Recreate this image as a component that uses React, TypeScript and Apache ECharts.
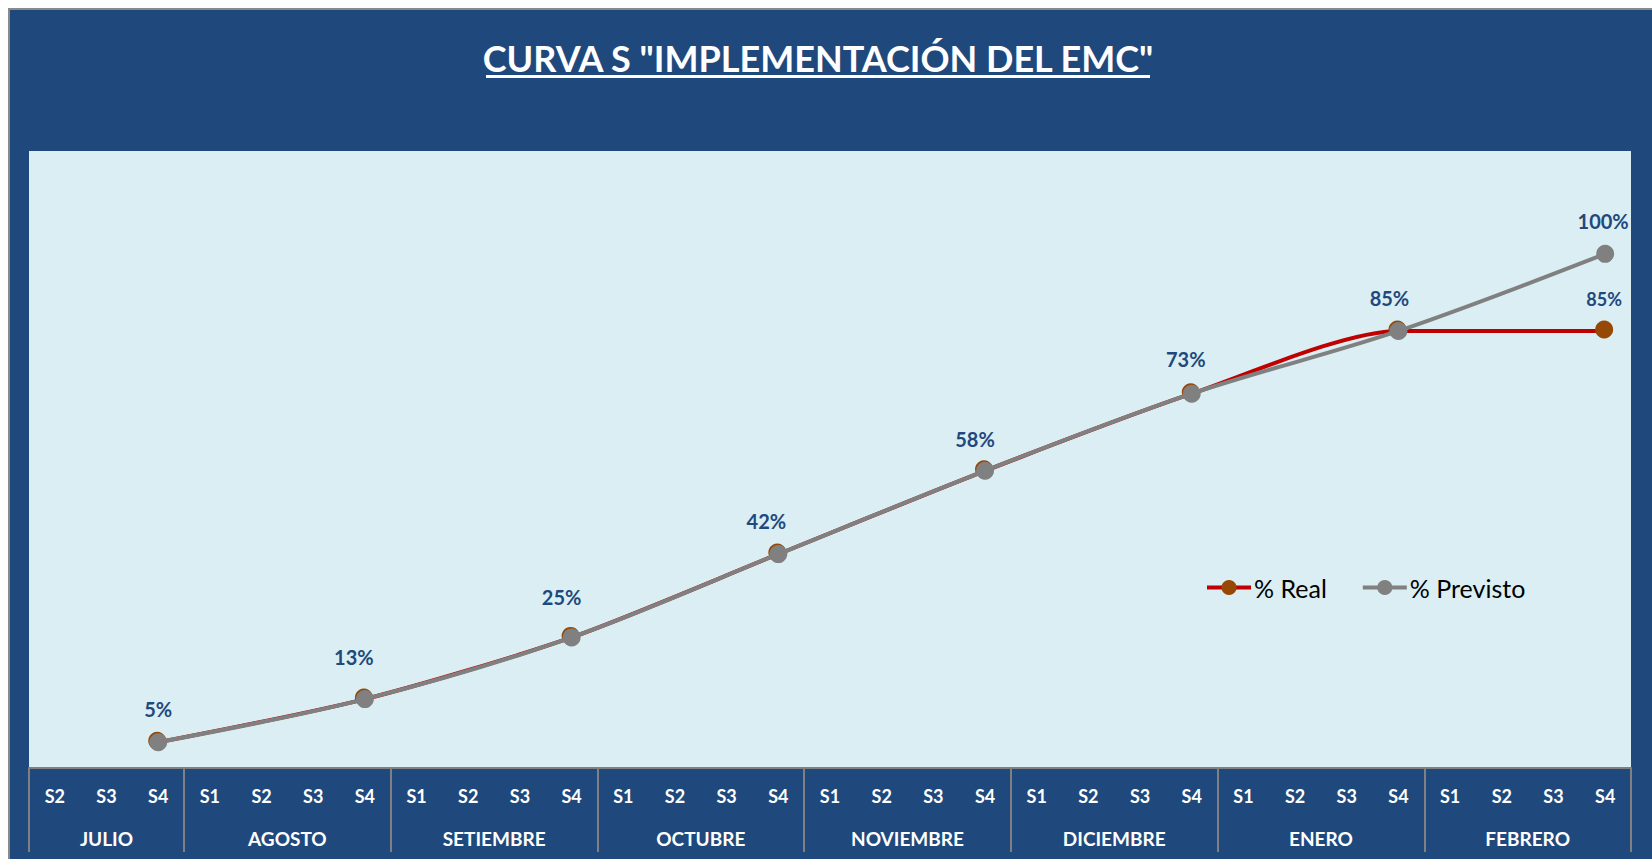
import React, { useEffect, useRef } from 'react';
import * as echarts from 'echarts';

const months = ['JULIO', 'AGOSTO', 'SETIEMBRE', 'OCTUBRE', 'NOVIEMBRE', 'DICIEMBRE', 'ENERO', 'FEBRERO'];
const monthWeeks = [
  ['S2', 'S3', 'S4'],
  ['S1', 'S2', 'S3', 'S4'],
  ['S1', 'S2', 'S3', 'S4'],
  ['S1', 'S2', 'S3', 'S4'],
  ['S1', 'S2', 'S3', 'S4'],
  ['S1', 'S2', 'S3', 'S4'],
  ['S1', 'S2', 'S3', 'S4'],
  ['S1', 'S2', 'S3', 'S4'],
];
// values at the last week (S4) of each month, in %
const previsto = [5, 13.4, 25.4, 41.6, 57.8, 72.8, 85, 100];
const real = [5, 13.4, 25.4, 41.6, 57.8, 72.8, 85, 85];
// label nudges (px) for the data labels of the "% Previsto" series
const labelNudges = [
  [0, 0],
  [-11, -9],
  [-10, -7],
  [-12, 0],
  [-10, 1],
  [-6, -2],
  [-9, 0],
  [-2, 0],
];

const FONT = 'Lato';
const DARK = '#1F497D';
const W = 1644;
const H = 851;

export default function App() {
  const ref = useRef<HTMLDivElement>(null);
  useEffect(() => {
    document.documentElement.style.overflow = 'hidden';
    const chart = echarts.init(ref.current!, null, { renderer: 'svg' });

    const weekCats: string[] = [];
    const monthEnd: number[] = [];
    const starts: number[] = [];
    monthWeeks.forEach((w) => {
      starts.push(weekCats.length);
      w.forEach((s) => weekCats.push(s));
      monthEnd.push(weekCats.length - 1);
    });
    const total = weekCats.length;
    const halfCats: string[] = new Array(total * 2 + 1).fill('');
    const labelIdx = new Set<number>();
    const boundIdx = new Set<number>();
    months.forEach((m, i) => {
      const s = starts[i];
      const n = monthWeeks[i].length;
      halfCats[2 * s + n] = m;
      labelIdx.add(2 * s + n);
      boundIdx.add(2 * s);
      boundIdx.add(2 * (s + n));
    });

    const previstoData = previsto.map((v, i) => ({
      value: [monthEnd[i], v],
      label: { offset: labelNudges[i] },
    }));
    const realData = real.map((v, i) =>
      i === real.length - 1
        ? { value: [monthEnd[i], v], label: { show: true } }
        : [monthEnd[i], v]
    );

    const fmt = (p: any) => Math.round(p.value[1]) + '%';

    chart.setOption({
      animation: false,
      backgroundColor: DARK,
      grid: {
        left: 21,
        right: W - 1623,
        top: 143,
        bottom: H - 760,
        show: true,
        backgroundColor: '#DAEEF3',
        borderWidth: 0,
      },
      graphic: [
        {
          type: 'polyline',
          shape: { points: [[1, H], [1, 1], [W, 1]] },
          style: { fill: 'none', stroke: '#8a8a8a', lineWidth: 2 },
          silent: true,
        },
        {
          type: 'text',
          x: 810,
          y: 50,
          style: {
            text: 'CURVA S "IMPLEMENTACIÓN DEL EMC"',
            fill: '#ffffff',
            font: `bold 36px ${FONT}`,
            textAlign: 'center',
            textVerticalAlign: 'middle',
          },
        },
        {
          type: 'rect',
          shape: { x: 478, y: 67, width: 664, height: 3 },
          style: { fill: '#ffffff' },
        },
      ],
      legend: {
        data: ['% Real', '% Previsto'],
        left: 1192,
        top: 562,
        itemWidth: 44,
        itemHeight: 19,
        itemGap: 34,
        lineStyle: { width: 4 },
        textStyle: { fontFamily: FONT, fontSize: 25, color: '#000000', padding: [0, 0, 0, -2] },
      },
      xAxis: [
        {
          type: 'category',
          data: weekCats,
          boundaryGap: true,
          position: 'bottom',
          axisLine: { show: true, lineStyle: { color: '#808080', width: 2 } },
          axisTick: { show: false },
          axisLabel: {
            interval: 0,
            margin: 19,
            color: '#ffffff',
            fontFamily: FONT,
            fontWeight: 'bold',
            fontSize: 18,
          },
          splitLine: { show: false },
        },
        {
          type: 'category',
          data: halfCats,
          boundaryGap: false,
          position: 'bottom',
          axisLine: { show: false },
          axisTick: {
            show: true,
            length: 84,
            interval: (idx: number) => boundIdx.has(idx),
            lineStyle: { color: '#808080', width: 2 },
          },
          axisLabel: {
            interval: (idx: number) => labelIdx.has(idx),
            margin: 61,
            color: '#ffffff',
            fontFamily: FONT,
            fontWeight: 'bold',
            fontSize: 19,
          },
          splitLine: { show: false },
        },
      ],
      yAxis: {
        type: 'value',
        min: 0,
        max: 120,
        show: false,
        splitLine: { show: false },
      },
      series: [
        {
          name: '% Real',
          type: 'line',
          xAxisIndex: 0,
          data: realData,
          smooth: 0.25,
          connectNulls: true,
          symbol: 'circle',
          symbolSize: 18,
          symbolOffset: [-1, -1.5],
          lineStyle: { color: '#C00000', width: 4 },
          itemStyle: { color: '#974706' },
          label: {
            show: false,
            position: 'top',
            distance: 12,
            formatter: fmt,
            color: DARK,
            fontFamily: FONT,
            fontWeight: 'bold',
            fontSize: 18,
          },
          z: 2,
        },
        {
          name: '% Previsto',
          type: 'line',
          xAxisIndex: 0,
          data: previstoData,
          smooth: 0.33,
          connectNulls: true,
          symbol: 'circle',
          symbolSize: 18,
          lineStyle: { color: '#808080', width: 4 },
          itemStyle: { color: '#808080' },
          label: {
            show: true,
            position: 'top',
            distance: 14,
            formatter: fmt,
            color: DARK,
            fontFamily: FONT,
            fontWeight: 'bold',
            fontSize: 20,
          },
          z: 3,
        },
      ],
    });
    return () => chart.dispose();
  }, []);
  return (
    <div
      ref={ref}
      style={{ position: 'fixed', left: 8, top: 8, width: W, height: H }}
    />
  );
}
